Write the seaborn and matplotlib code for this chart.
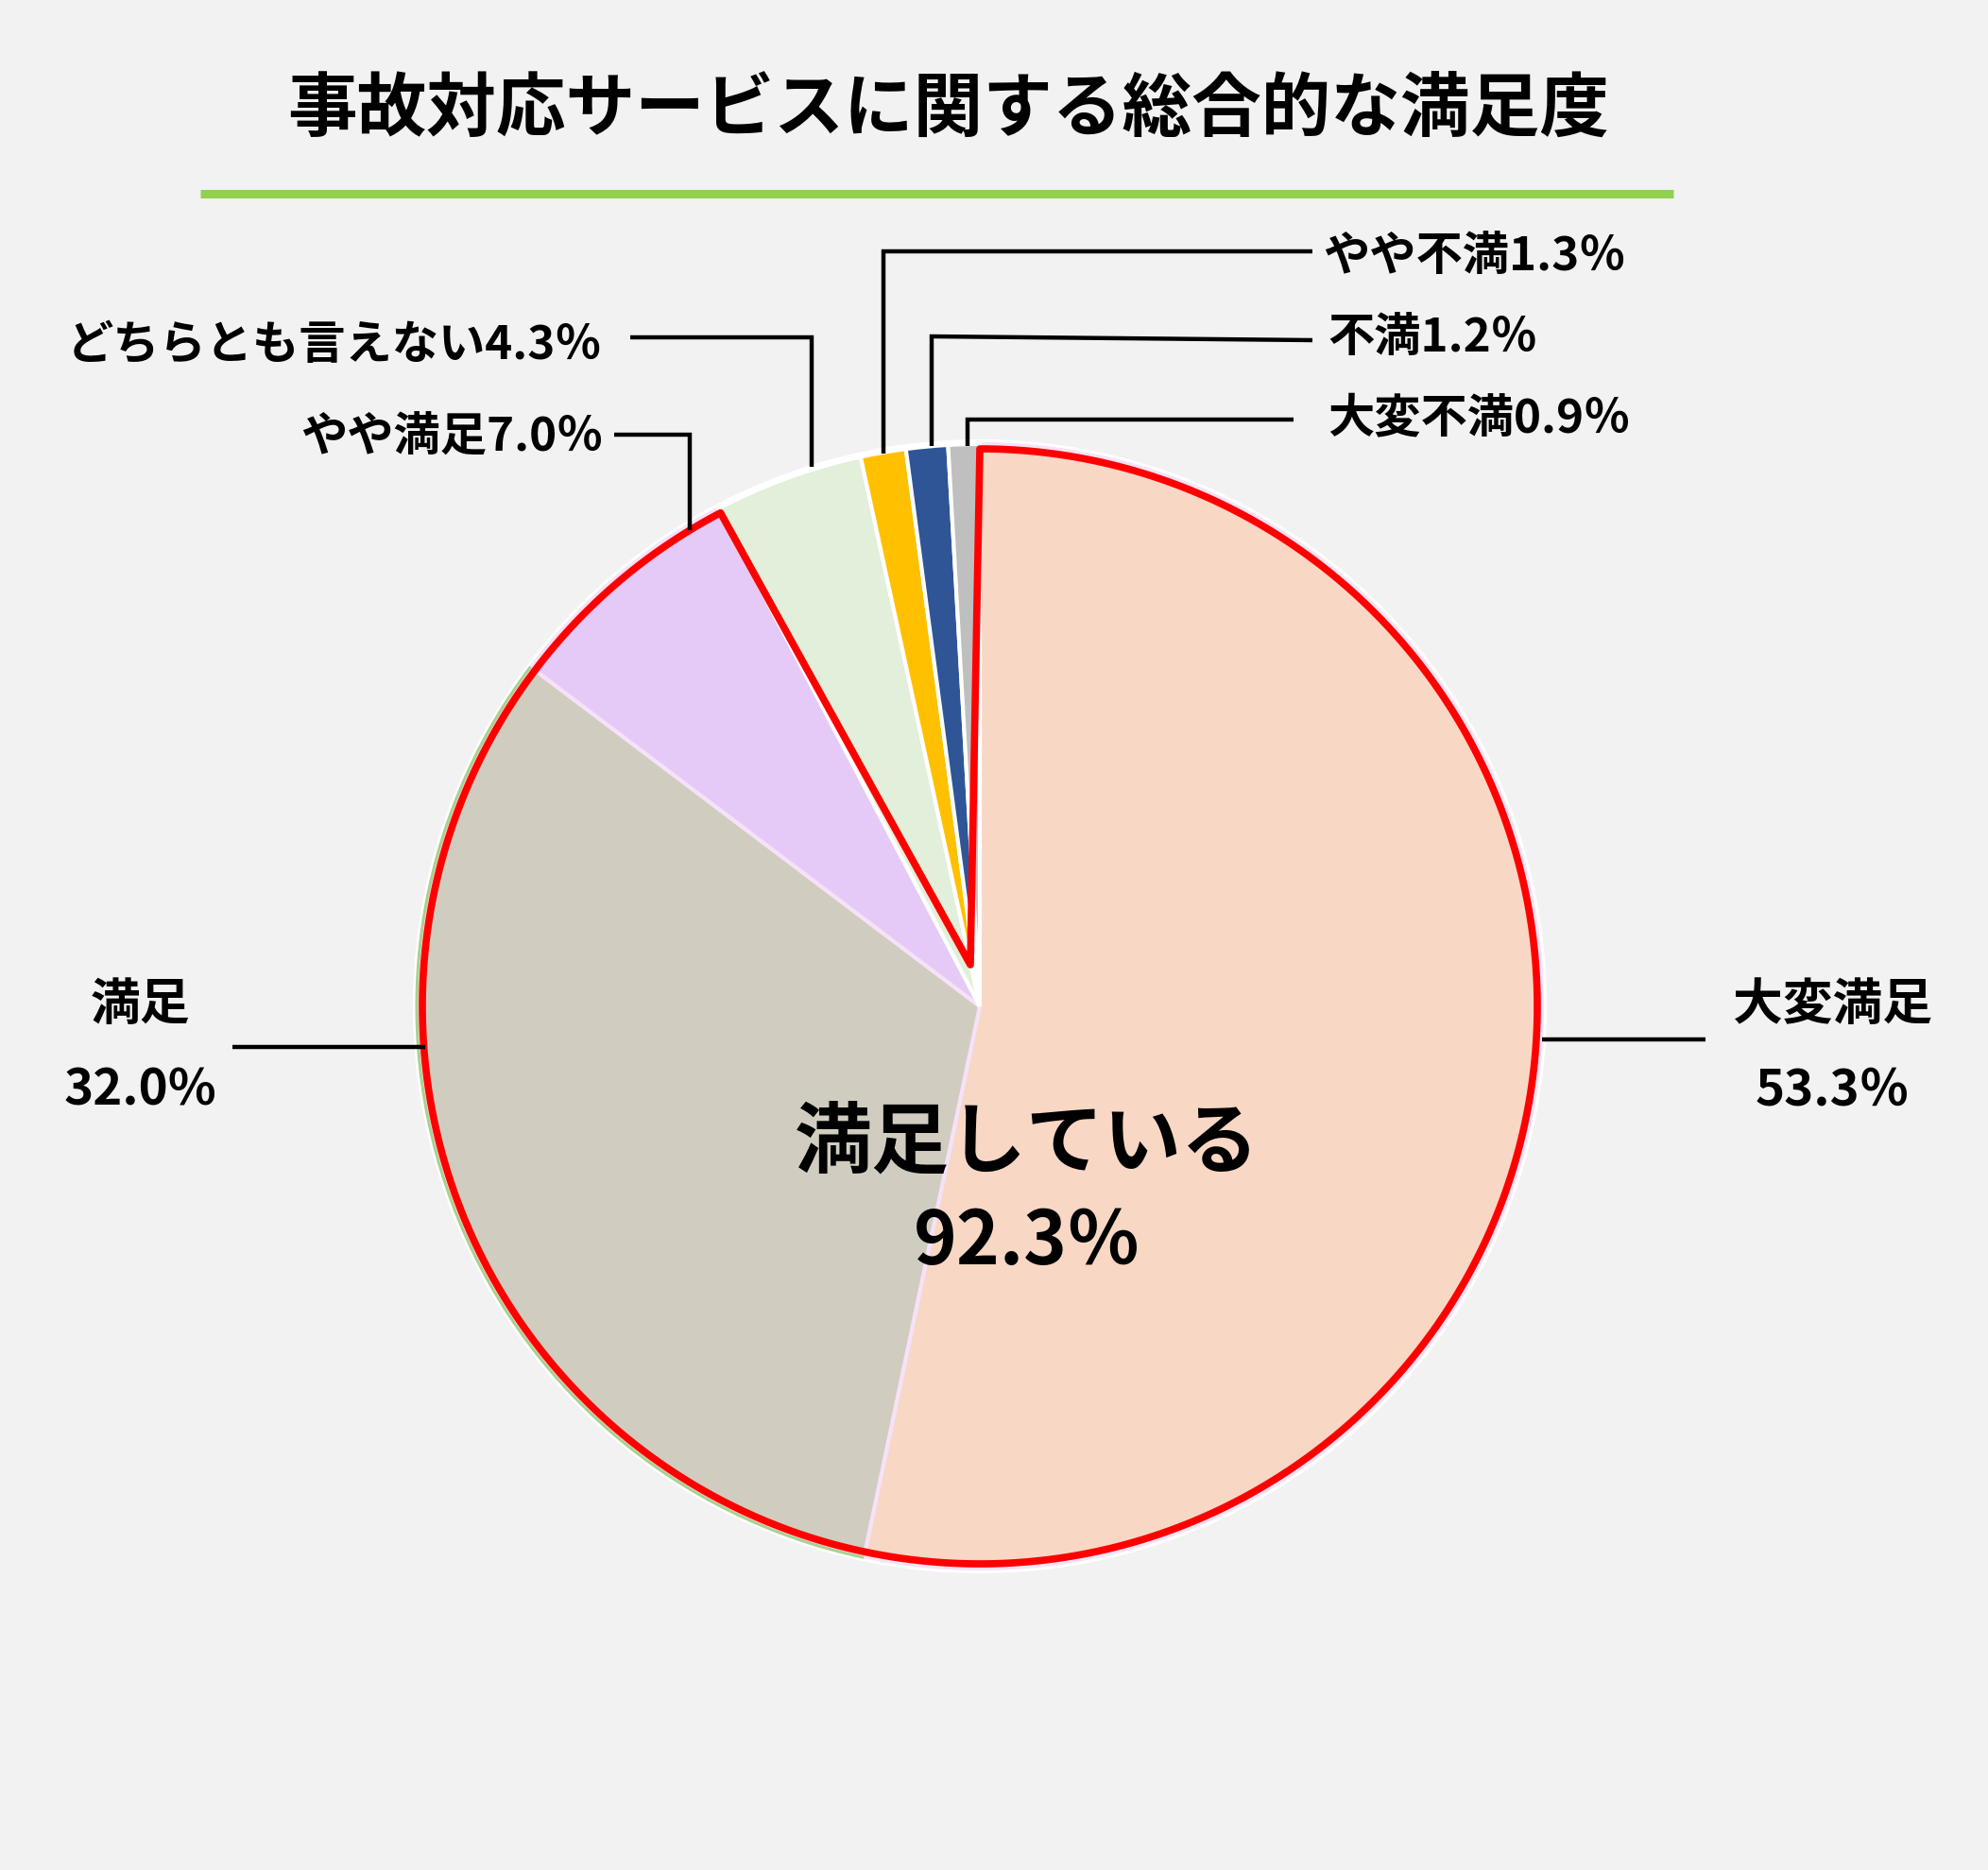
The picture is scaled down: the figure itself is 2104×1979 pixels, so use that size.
import numpy as np
import matplotlib
matplotlib.use('Agg')
import matplotlib.pyplot as plt
import seaborn as sns
from matplotlib.patches import Arc, Circle, PathPatch
from matplotlib.path import Path

# ---- data ----
categories = ['大変満足', '満足', 'やや満足', 'どちらとも言えない', 'やや不満', '不満', '大変不満']
values = [53.3, 32.0, 7.0, 4.3, 1.3, 1.2, 0.9]
pct_texts = ['53.3％', '32.0%', '7.0％', '4.3％', '1.3％', '1.2％', '0.9％']
colors = ['#F8D7C5', '#D0CDC0', '#E5CAF7', '#E2EFDA', '#FFC000', '#2F5597', '#BFBFBF']
satisfied_label = '満足している'
satisfied_total = '92.3％'
title = '事故対応サービスに関する総合的な満足度'

sns.set_theme(style='white')
plt.rcParams['font.family'] = ['Noto Sans CJK JP', 'DejaVu Sans']
plt.rcParams['text.color'] = 'black'

W, H = 2104, 1979
BG = '#F2F2F2'
fig = plt.figure(figsize=(W / 100, H / 100), dpi=100, facecolor=BG)
ax = fig.add_axes([0, 0, 1, 1])
ax.set_facecolor(BG)


def Y(y):
    return H - y


cx, cy, R = 1037, Y(1065), 595

wedges, _ = ax.pie(values, colors=colors, startangle=90, counterclock=False,
                   center=(cx, cy), radius=R, frame=True,
                   wedgeprops=dict(edgecolor='white', linewidth=3, joinstyle='miter'))
for w in wedges[:3]:
    w.set_edgecolor('#F6E2F8')
    w.set_linewidth(3)

ax.add_patch(Circle((cx, cy), R + 3, fill=False, edgecolor='white', lw=3, zorder=0.5))

# slice angles (degrees, CCW convention)
cum = np.concatenate([[0], np.cumsum(values)])
ang = 90 - 360 * cum / 100.0

# thin green arc on the 満足 slice
ax.add_patch(Arc((cx, cy), 2 * (R + 1), 2 * (R + 1), theta1=ang[2], theta2=ang[1],
                 color='#A9D18E', lw=2.2, zorder=3))

# red outline around 満足している (first three slices)
sat_share = sum(values[:3])
apex = (cx - 10, cy + 44)
Rr = R - 5
t = np.deg2rad(np.linspace(90, 90 - 360 * sat_share / 100.0, 500))
verts = [apex] + list(zip(cx + Rr * np.cos(t), cy + Rr * np.sin(t))) + [apex]
codes = [Path.MOVETO] + [Path.LINETO] * (len(verts) - 2) + [Path.CLOSEPOLY]
ax.add_patch(PathPatch(Path(verts, codes), fill=False, edgecolor='#FF0000', lw=5.5,
                       joinstyle='round', zorder=4))

# title & rule
ax.text(1004, Y(118), title, ha='center', va='center', fontsize=53, fontweight='bold',
        color='black')
ax.plot([212, 1771], [Y(205), Y(205)], color='#92D050', lw=6.5, solid_capstyle='butt')

# leader lines
lk = dict(color='black', lw=3.2, solid_capstyle='butt', solid_joinstyle='miter', zorder=5)
leaders = [
    [(1632, 1100), (1805, 1100)],
    [(246, 1108), (450, 1108)],
    [(650, 460), (730, 460), (730, 561)],
    [(667, 357), (859, 357), (859, 494)],
    [(1389, 266), (935, 266), (935, 480)],
    [(1389, 360), (986, 356), (986, 472)],
    [(1369, 444), (1024, 444), (1024, 472)],
]
for seg in leaders:
    xs, ys = zip(*seg)
    ax.plot(xs, [Y(v) for v in ys], **lk)

lw_ = 'bold'
fs_big = 38
fs_small = 35.5
# big labels (two lines)
ax.text(1939, Y(1064), categories[0], ha='center', va='center', fontsize=fs_big, fontweight=lw_)
ax.text(1939, Y(1154), pct_texts[0], ha='center', va='center', fontsize=fs_big, fontweight=lw_)
ax.text(148, Y(1064), categories[1], ha='center', va='center', fontsize=fs_big, fontweight=lw_)
ax.text(148, Y(1154), pct_texts[1], ha='center', va='center', fontsize=fs_big, fontweight=lw_)
# single-line labels
ax.text(639, Y(463), categories[2] + pct_texts[2], ha='right', va='center', fontsize=fs_small, fontweight=lw_)
ax.text(637, Y(365), categories[3] + pct_texts[3], ha='right', va='center', fontsize=fs_small, fontweight=lw_)
ax.text(1400, Y(271), categories[4] + pct_texts[4], ha='left', va='center', fontsize=fs_small, fontweight=lw_)
ax.text(1405, Y(358), categories[5] + pct_texts[5], ha='left', va='center', fontsize=fs_small, fontweight=lw_)
ax.text(1405, Y(443), categories[6] + pct_texts[6], ha='left', va='center', fontsize=fs_small, fontweight=lw_)

# centre text
ax.text(1087, Y(1212), satisfied_label, ha='center', va='center', fontsize=59, fontweight='bold', zorder=6)
ax.text(1087, Y(1315), satisfied_total, ha='center', va='center', fontsize=56, fontweight='bold', zorder=6)

ax.set_xlim(0, W)
ax.set_ylim(0, H)
ax.set_aspect('equal')
ax.axis('off')

fig.savefig('out.png', dpi=100, facecolor=BG)
